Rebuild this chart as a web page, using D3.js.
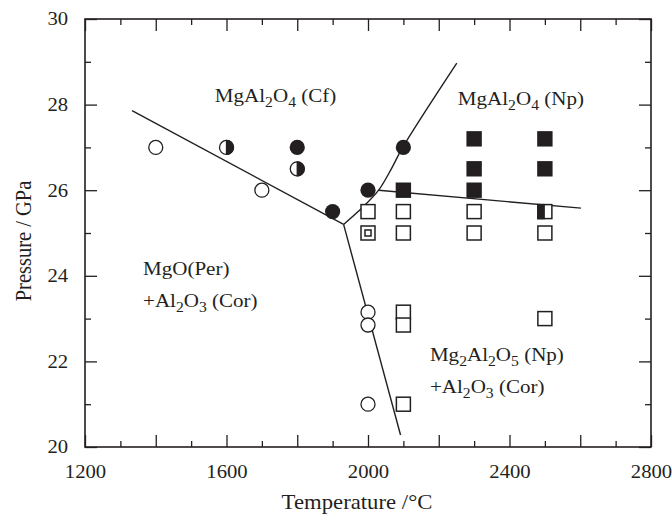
<!DOCTYPE html>
<html>
<head>
<meta charset="utf-8">
<script src="https://cdn.jsdelivr.net/npm/d3@7"></script>
<style>
  body { margin: 0; background: #fff; }
  text { font-family: "Liberation Serif", "Times New Roman", serif; fill: #231f20; }
  .tick text { transform-box: fill-box; transform-origin: center; transform: scaleX(1.12); }
</style>
</head>
<body>
<div id="graph"></div>
<script>
// experiment points: [temperature °C, pressure GPa]
const openCircles = [[1400, 27], [1700, 26], [2000, 23.15], [2000, 22.85], [2000, 21]];
const halfCircles = [[1600, 27], [1800, 26.5]];
const filledCircles = [[1800, 27], [1900, 25.5], [2000, 26], [2100, 27]];
const filledSquares = [[2100, 26], [2300, 27.2], [2300, 26.5], [2300, 26], [2500, 27.2], [2500, 26.5]];
const openSquares = [[2000, 25.5], [2100, 25.5], [2300, 25.5], [2100, 25], [2300, 25], [2500, 25],
  [2100, 23.15], [2100, 22.85], [2500, 23], [2100, 21]];
const halfSquares = [[2500, 25.5]];
const dotSquares = [[2000, 25]];

// phase boundaries
const boundaryCfPer = [[1333, 27.86], [1931, 25.2]];
const boundaryPerNp = [[1931, 25.2], [2092, 20.28]];
const boundaryCfNp = [[1931, 25.2], [1985, 25.6], [2030, 26.0], [2066, 26.5], [2098, 27.0], [2251, 28.97]];
const boundaryNp = [[2030, 26.0], [2602, 25.58]];

const xMajor = [1200, 1400, 1600, 1800, 2000, 2200, 2400, 2600, 2800];
const xLabels = [1200, 1600, 2000, 2400, 2800];
const yMajor = [20, 22, 24, 26, 28, 30];

// region labels, parts: [text, subscript?]
const regionLabels = [
  { t: 1567, p: 28.05, parts: [["MgAl", 0], ["2", 1], ["O", 0], ["4", 1], [" (Cf)", 0]] },
  { t: 2254, p: 27.99, parts: [["MgAl", 0], ["2", 1], ["O", 0], ["4", 1], [" (Np)", 0]] },
  { t: 1364, p: 24.02, parts: [["MgO(Per)", 0]] },
  { t: 1364, p: 23.27, parts: [["+Al", 0], ["2", 1], ["O", 0], ["3", 1], [" (Cor)", 0]] },
  { t: 2175, p: 22.01, parts: [["Mg", 0], ["2", 1], ["Al", 0], ["2", 1], ["O", 0], ["5", 1], [" (Np)", 0]] },
  { t: 2175, p: 21.26, parts: [["+Al", 0], ["2", 1], ["O", 0], ["3", 1], [" (Cor)", 0]] }
];

const ink = "#231f20";
const stretch = 1.12; // the original figure is a little wider than tall
const margin = { top: 19, right: 21, bottom: 68, left: 85 },
  width = 672 - margin.left - margin.right,
  height = 515 - margin.top - margin.bottom;

const root = d3.select("#graph").append("svg")
  .attr("width", 672).attr("height", 515);
const svg = root.append("g")
  .attr("transform", `translate(${margin.left},${margin.top})`);

const x = d3.scaleLinear().domain([1200, 2800]).range([0, width]);
const y = d3.scaleLinear().domain([20, 30]).range([height, 0]);

const xMinor = d3.range(1300, 2800, 200);
const yMinor = d3.range(21, 30, 2);

function styleAxis(g) {
  g.select(".domain").remove();
  g.selectAll("line").attr("stroke", ink).attr("stroke-width", 1.3);
  g.selectAll("text").attr("font-size", 18.5).attr("fill", ink)
    .attr("font-family", "Liberation Serif, serif");
}

// bottom
svg.append("g").attr("transform", `translate(0,${height})`)
  .call(d3.axisBottom(x).tickValues(xMajor).tickSize(-12).tickPadding(18)
    .tickFormat(d => xLabels.includes(d) ? d : ""))
  .call(styleAxis);
svg.append("g").attr("transform", `translate(0,${height})`)
  .call(d3.axisBottom(x).tickValues(xMinor).tickSize(-6).tickFormat(""))
  .call(styleAxis);
// top
svg.append("g")
  .call(d3.axisTop(x).tickValues(xMajor).tickSize(-12).tickFormat(""))
  .call(styleAxis);
svg.append("g")
  .call(d3.axisTop(x).tickValues(xMinor).tickSize(-6).tickFormat(""))
  .call(styleAxis);
// left
svg.append("g")
  .call(d3.axisLeft(y).tickValues(yMajor).tickSize(-12).tickPadding(18))
  .call(styleAxis);
svg.append("g")
  .call(d3.axisLeft(y).tickValues(yMinor).tickSize(-6).tickFormat(""))
  .call(styleAxis);
// right
svg.append("g").attr("transform", `translate(${width},0)`)
  .call(d3.axisRight(y).tickValues(yMajor).tickSize(-12).tickFormat(""))
  .call(styleAxis);
svg.append("g").attr("transform", `translate(${width},0)`)
  .call(d3.axisRight(y).tickValues(yMinor).tickSize(-6).tickFormat(""))
  .call(styleAxis);

// frame
svg.append("rect")
  .attr("width", width).attr("height", height)
  .attr("fill", "none").attr("stroke", ink).attr("stroke-width", 1.6);

// boundaries
const line = d3.line().x(d => x(d[0])).y(d => y(d[1]));
[boundaryCfPer, boundaryPerNp, boundaryNp].forEach(b => {
  svg.append("path").datum(b)
    .attr("fill", "none").attr("stroke", ink).attr("stroke-width", 1.4)
    .attr("d", line);
});
svg.append("path").datum(boundaryCfNp)
  .attr("fill", "none").attr("stroke", ink).attr("stroke-width", 1.4)
  .attr("d", line.curve(d3.curveCatmullRom));

const r = 7, s = 14;
const pts = svg.append("g");

function place(sel) {
  return sel.attr("transform", d => `translate(${x(d[0])},${y(d[1])})`);
}

// circles
place(pts.selectAll(".oc").data(openCircles).enter().append("circle").attr("class", "oc"))
  .attr("r", r).attr("fill", "#fff").attr("stroke", ink).attr("stroke-width", 1.3);
place(pts.selectAll(".fc").data(filledCircles).enter().append("circle").attr("class", "fc"))
  .attr("r", r + 0.6).attr("fill", ink);
const hc = place(pts.selectAll(".hc").data(halfCircles).enter().append("g").attr("class", "hc"));
hc.append("circle").attr("r", r).attr("fill", "#fff").attr("stroke", ink).attr("stroke-width", 1.3);
hc.append("path").attr("d", `M0,${-r}A${r},${r} 0 0 1 0,${r}Z`).attr("fill", ink)
  .attr("stroke", ink).attr("stroke-width", 1.3);

// squares
place(pts.selectAll(".os").data(openSquares.concat(dotSquares)).enter().append("rect").attr("class", "os"))
  .attr("x", -s / 2).attr("y", -s / 2).attr("width", s).attr("height", s)
  .attr("fill", "#fff").attr("stroke", ink).attr("stroke-width", 1.5);
place(pts.selectAll(".ds").data(dotSquares).enter().append("rect").attr("class", "ds"))
  .attr("x", -3).attr("y", -3).attr("width", 6).attr("height", 6)
  .attr("fill", "none").attr("stroke", ink).attr("stroke-width", 1.5);
place(pts.selectAll(".fs").data(filledSquares).enter().append("rect").attr("class", "fs"))
  .attr("x", -s / 2 - 0.7).attr("y", -s / 2 - 0.7).attr("width", s + 1.4).attr("height", s + 1.4)
  .attr("fill", ink);
const hs = place(pts.selectAll(".hs").data(halfSquares).enter().append("g").attr("class", "hs"));
hs.append("rect").attr("x", -s / 2).attr("y", -s / 2).attr("width", s).attr("height", s)
  .attr("fill", "#fff").attr("stroke", ink).attr("stroke-width", 1.5);
hs.append("rect").attr("x", -s / 2 - 0.7).attr("y", -s / 2 - 0.7).attr("width", s / 2 + 0.7).attr("height", s + 1.4)
  .attr("fill", ink);

// region labels
regionLabels.forEach(l => {
  const t = svg.append("text")
    .attr("transform", `translate(${x(l.t)},${y(l.p)}) scale(${stretch},1)`)
    .attr("font-size", 18.8);
  let down = false;
  l.parts.forEach(p => {
    const ts = t.append("tspan").text(p[0]);
    if (p[1] && !down) { ts.attr("dy", 5).attr("font-size", 14); down = true; }
    else if (p[1]) { ts.attr("font-size", 14); }
    else if (down) { ts.attr("dy", -5); down = false; }
  });
});

// axis titles
root.append("text")
  .attr("transform", `translate(357,509) scale(${stretch},1)`)
  .attr("text-anchor", "middle").attr("font-size", 20.3)
  .text("Temperature /°C");
root.append("text")
  .attr("transform", `translate(31,241) rotate(-90) scale(1,${stretch})`)
  .attr("text-anchor", "middle").attr("font-size", 20.5)
  .text("Pressure / GPa");
</script>
</body>
</html>
